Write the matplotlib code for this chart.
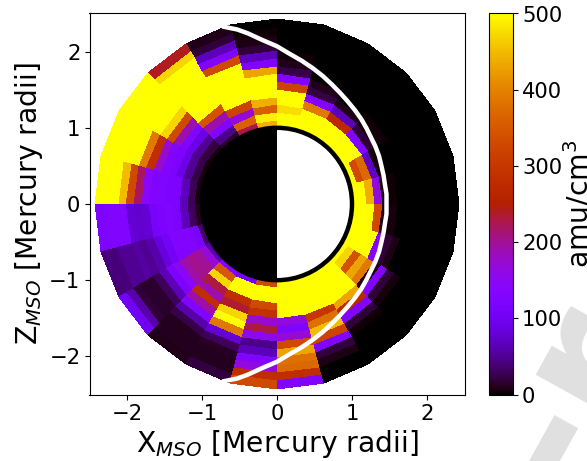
import numpy as np
import matplotlib
matplotlib.use('Agg')
import matplotlib.pyplot as plt
from matplotlib.patches import Wedge, Circle

# density per 15 deg sector, 14 radial cells from the planet surface outward
sec_000 = [500, 500, 440, 165, 8, 2, 0, 0, 0, 0, 0, 0, 0, 0]
sec_015 = [500, 330, 370, 70, 5, 0, 0, 0, 0, 0, 0, 0, 0, 0]
sec_030 = [500, 500, 500, 125, 18, 5, 2, 0, 0, 0, 0, 0, 0, 0]
sec_045 = [500, 500, 500, 270, 65, 8, 1, 0, 0, 0, 0, 0, 0, 0]
sec_060 = [500, 500, 500, 390, 125, 22, 8, 1, 0, 0, 0, 0, 0, 0]
sec_075 = [500, 500, 475, 500, 500, 320, 125, 25, 8, 2, 0, 0, 0, 0]
sec_090 = [440, 490, 360, 440, 500, 500, 500, 430, 130, 65, 18, 6, 3, 0]
sec_105 = [225, 360, 170, 320, 500, 500, 500, 500, 500, 330, 130, 65, 18, 8]
sec_120 = [15, 45, 125, 190, 340, 500, 500, 500, 500, 500, 500, 500, 470, 240]
sec_135 = [5, 22, 50, 90, 125, 190, 330, 470, 500, 500, 500, 500, 500, 500]
sec_150 = [5, 25, 50, 90, 120, 130, 175, 280, 390, 500, 500, 500, 500, 500]
sec_165 = [5, 28, 65, 120, 120, 125, 125, 140, 220, 330, 450, 500, 500, 500]
sec_180 = [10, 30, 65, 120, 125, 120, 110, 80, 75, 80, 125, 125, 125, 120]
sec_195 = [35, 115, 125, 130, 125, 105, 85, 60, 50, 55, 50, 50, 40, 40]
sec_210 = [60, 170, 200, 205, 195, 145, 120, 65, 30, 15, 15, 18, 60, 100]
sec_225 = [130, 350, 470, 230, 190, 280, 195, 130, 60, 25, 10, 10, 10, 8]
sec_240 = [100, 500, 500, 280, 235, 470, 500, 390, 80, 30, 12, 10, 10, 20]
sec_255 = [330, 500, 500, 330, 290, 175, 230, 155, 45, 65, 125, 165, 280, 330]
sec_270 = [500, 500, 500, 500, 500, 165, 125, 170, 330, 430, 380, 370, 280, 125]
sec_285 = [500, 500, 500, 500, 500, 300, 380, 450, 320, 125, 20, 6, 0, 0]
sec_300 = [500, 500, 500, 500, 500, 430, 270, 130, 18, 2, 0, 0, 0, 0]
sec_315 = [500, 470, 340, 430, 390, 10, 130, 18, 5, 0, 0, 0, 0, 0]
sec_330 = [500, 500, 500, 500, 130, 18, 6, 1, 0, 0, 0, 0, 0, 0]
sec_345 = [500, 500, 500, 330, 8, 5, 1, 0, 0, 0, 0, 0, 0, 0]

r_edges = [1.0, 1.102, 1.204, 1.306, 1.408, 1.51, 1.612, 1.714, 1.816, 1.918, 2.02, 2.122, 2.224, 2.326, 2.43]
phi_edges = list(range(0, 361, 15))

# white boundary (upper half, mirrored below)
mp_x = [-0.73, -0.53, -0.39, -0.19, 0.0, 0.17, 0.33, 0.48, 0.61, 0.73, 0.84, 0.94, 1.04,
        1.12, 1.19, 1.25, 1.31, 1.36, 1.39, 1.42, 1.44, 1.46, 1.46]
mp_z = [2.33, 2.29, 2.24, 2.15, 2.07, 1.97, 1.88, 1.78, 1.68, 1.57, 1.46, 1.35, 1.23,
        1.12, 1.00, 0.88, 0.76, 0.63, 0.51, 0.38, 0.25, 0.13, 0.0]

density = np.array([sec_000, sec_015, sec_030, sec_045, sec_060, sec_075, sec_090, sec_105,
                    sec_120, sec_135, sec_150, sec_165, sec_180, sec_195, sec_210, sec_225,
                    sec_240, sec_255, sec_270, sec_285, sec_300, sec_315, sec_330, sec_345])

rr, pp = np.meshgrid(r_edges, np.radians(phi_edges))
X = rr * np.cos(pp)
Z = rr * np.sin(pp)

fig = plt.figure(figsize=(5.87, 4.61), dpi=100)

# faint watermark letters cut by the corner of the page
fig.text(515/587, 1-613/461, "e-r", fontsize=137, fontweight='bold', color='#e0e0e0',
         rotation=61, rotation_mode='anchor', ha='left', va='baseline', zorder=-1)

ax = fig.add_axes([89.5/587, 1-394.5/461, 375/587, 381/461])
mesh = ax.pcolormesh(X, Z, density, cmap='gnuplot', vmin=0, vmax=500, shading='flat')

ax.add_patch(Wedge((0, 0), 1.0, 90, 270, fc='black', ec='none', zorder=3))
ax.add_patch(Circle((0, 0), 1.0, fc='none', ec='black', lw=3.2, zorder=4))
ax.plot(mp_x + mp_x[-2::-1], mp_z + [-z for z in mp_z[-2::-1]], color='white', lw=3.2,
        zorder=5, solid_capstyle='butt')

ax.set_xlim(-2.5, 2.5)
ax.set_ylim(-2.5, 2.5)
ax.set_xticks([-2, -1, 0, 1, 2])
ax.set_yticks([-2, -1, 0, 1, 2])
ax.tick_params(axis='both', labelsize=15.2, length=3.5, pad=3)
ax.set_xlabel(r"X$_{MSO}$ [Mercury radii]", fontsize=20.3, labelpad=3)
ax.set_ylabel(r"Z$_{MSO}$ [Mercury radii]", fontsize=20.3, labelpad=3)

cax = fig.add_axes([489/587, 1-394.5/461, 24/587, 381/461])
cb = fig.colorbar(mesh, cax=cax)
cb.set_ticks([0, 100, 200, 300, 400, 500])
cb.ax.tick_params(labelsize=15.2, length=3.5, pad=3)
cb.set_label(r"amu/cm$^3$", fontsize=20.3, labelpad=0)

fig.savefig("out.png", dpi=100)
